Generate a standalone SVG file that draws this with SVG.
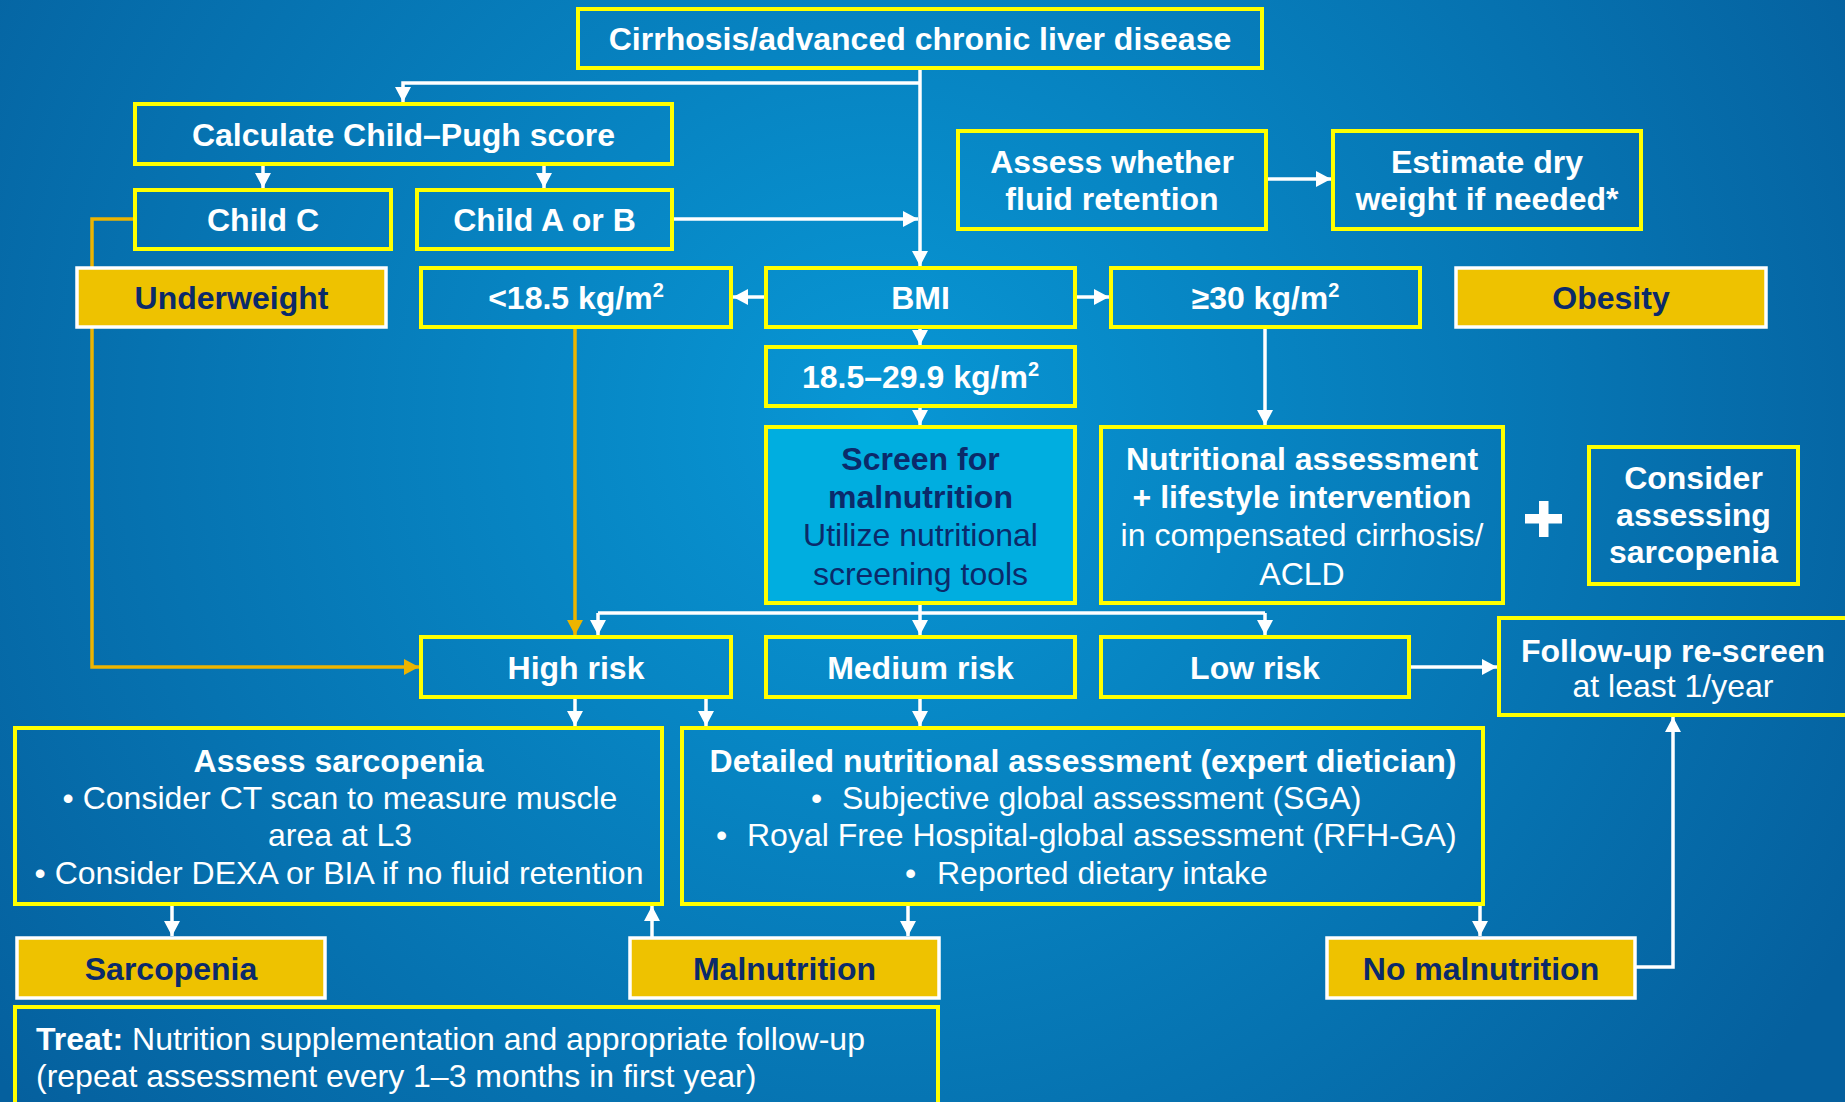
<svg xmlns="http://www.w3.org/2000/svg" width="1845" height="1102" viewBox="0 0 1845 1102">
<defs>
<radialGradient id="bg" gradientUnits="userSpaceOnUse" cx="880" cy="420" r="1100">
<stop offset="0" stop-color="#0897D5"/>
<stop offset="1" stop-color="#05609E"/>
</radialGradient>
<marker id="aw" markerUnits="userSpaceOnUse" markerWidth="16" markerHeight="16" refX="15" refY="8" orient="auto"><path d="M0,0 L15,8 L0,16 z" fill="#FFFFFF"/></marker>
<marker id="ag" markerUnits="userSpaceOnUse" markerWidth="16" markerHeight="16" refX="15" refY="8" orient="auto"><path d="M0,0 L15,8 L0,16 z" fill="#EDB400"/></marker>
<style>
.box{fill:none;stroke:#FFFF00;stroke-width:4}
.scr{fill:#00AEE0;stroke:#FFFF00;stroke-width:4}
.gold{fill:#EEC200;stroke:#FFFFFF;stroke-width:3.5}
.t{font-family:"Liberation Sans",Arial,sans-serif;font-size:32px;fill:#FFFFFF;text-anchor:middle}
.s{text-anchor:start}
.b{font-weight:bold}
.n{fill:#0B2A6A}
.w{stroke:#FFFFFF;stroke-width:3.5;fill:none;marker-end:url(#aw)}
.wl{stroke:#FFFFFF;stroke-width:3.5;fill:none}
.g{stroke:#EDB400;stroke-width:3.5;fill:none;marker-end:url(#ag)}
</style>
</defs>
<rect x="0" y="0" width="1845" height="1102" fill="url(#bg)"/>
<g id="connectors">
<path class="w" d="M920,68 V266"/>
<path class="w" d="M920,83 H403 V102"/>
<path class="w" d="M263,164 V188"/>
<path class="w" d="M544,164 V188"/>
<path class="w" d="M672,219 H918"/>
<path class="w" d="M1266,179 H1331"/>
<path class="w" d="M766,297 H733"/>
<path class="w" d="M1075,297 H1109"/>
<path class="w" d="M920,327 V345"/>
<path class="w" d="M920,406 V425"/>
<path class="w" d="M1265,327 V425"/>
<path class="w" d="M920,603 V635"/>
<path class="wl" d="M598,613 H1265"/>
<path class="w" d="M598,613 V635"/>
<path class="w" d="M1265,613 V635"/>
<path class="g" d="M575,327 V635"/>
<path class="g" d="M135,219 H92 V667 H419"/>
<path class="w" d="M575,697 V726"/>
<path class="w" d="M706,697 V726"/>
<path class="w" d="M920,697 V726"/>
<path class="w" d="M1409,667 H1497"/>
<path class="w" d="M172,904 V936"/>
<path class="w" d="M652,938 V906"/>
<path class="w" d="M908,904 V936"/>
<path class="w" d="M1480,904 V936"/>
<path class="w" d="M1635,967 H1673 V717"/>
</g>
<g id="n-top"><rect class="box" x="578" y="9" width="684" height="59"/><text class="t b" x="920" y="50">Cirrhosis/advanced chronic liver disease</text></g>
<g id="n-childpugh"><rect class="box" x="135" y="104" width="537" height="60"/><text class="t b" x="403.5" y="146">Calculate Child–Pugh score</text></g>
<g id="n-childc"><rect class="box" x="135" y="190" width="256" height="59"/><text class="t b" x="263" y="231">Child C</text></g>
<g id="n-childab"><rect class="box" x="417" y="190" width="255" height="59"/><text class="t b" x="544.5" y="231">Child A or B</text></g>
<g id="n-fluid"><rect class="box" x="958" y="131" width="308" height="98"/><text class="t b" x="1112" y="173">Assess whether</text><text class="t b" x="1112" y="210">fluid retention</text></g>
<g id="n-dry"><rect class="box" x="1333" y="131" width="308" height="98"/><text class="t b" x="1487" y="173">Estimate dry</text><text class="t b" x="1487" y="210">weight if needed*</text></g>
<g id="n-underweight"><rect class="gold" x="77" y="268" width="309" height="59"/><text class="t b n" x="231.5" y="309">Underweight</text></g>
<g id="n-lt185"><rect class="box" x="421" y="268" width="310" height="59"/><text class="t b" x="576" y="309">&lt;18.5 kg/m<tspan font-size="20" dy="-12">2</tspan></text></g>
<g id="n-bmi"><rect class="box" x="766" y="268" width="309" height="59"/><text class="t b" x="920.5" y="309">BMI</text></g>
<g id="n-ge30"><rect class="box" x="1111" y="268" width="309" height="59"/><text class="t b" x="1265.5" y="309">≥30 kg/m<tspan font-size="20" dy="-12">2</tspan></text></g>
<g id="n-obesity"><rect class="gold" x="1456" y="268" width="310" height="59"/><text class="t b n" x="1611" y="309">Obesity</text></g>
<g id="n-normal"><rect class="box" x="766" y="347" width="309" height="59"/><text class="t b" x="920.5" y="388">18.5–29.9 kg/m<tspan font-size="20" dy="-12">2</tspan></text></g>
<g id="n-screen"><rect class="scr" x="766" y="427" width="309" height="176"/><text class="t b n" x="920.5" y="470">Screen for</text><text class="t b n" x="920.5" y="508">malnutrition</text><text class="t n" x="920.5" y="546">Utilize nutritional</text><text class="t n" x="920.5" y="585">screening tools</text></g>
<g id="n-nutr"><rect class="box" x="1101" y="427" width="402" height="176"/><text class="t b" x="1302" y="470">Nutritional assessment</text><text class="t b" x="1302" y="508">+ lifestyle intervention</text><text class="t" x="1302" y="546">in compensated cirrhosis/</text><text class="t" x="1302" y="585">ACLD</text></g>
<g id="plus"><rect x="1525" y="514" width="37" height="9.5" fill="#FFFFFF"/><rect x="1539" y="501" width="9.5" height="36" fill="#FFFFFF"/></g>
<g id="n-considersarc"><rect class="box" x="1589" y="447" width="209" height="137"/><text class="t b" x="1693.5" y="489">Consider</text><text class="t b" x="1693.5" y="526">assessing</text><text class="t b" x="1693.5" y="563">sarcopenia</text></g>
<g id="n-high"><rect class="box" x="421" y="637" width="310" height="60"/><text class="t b" x="576" y="679">High risk</text></g>
<g id="n-medium"><rect class="box" x="766" y="637" width="309" height="60"/><text class="t b" x="920.5" y="679">Medium risk</text></g>
<g id="n-low"><rect class="box" x="1101" y="637" width="308" height="60"/><text class="t b" x="1255" y="679">Low risk</text></g>
<g id="n-followup"><rect class="box" x="1499" y="618" width="370" height="97"/><text class="t b" x="1673" y="662">Follow-up re-screen</text><text class="t" x="1673" y="697">at least 1/year</text></g>
<g id="n-assesssarc"><rect class="box" x="15" y="728" width="647" height="176"/><text class="t b" x="338.5" y="772">Assess sarcopenia</text><text class="t" x="340" y="809">• Consider CT scan to measure muscle</text><text class="t" x="340" y="846">area at L3</text><text class="t" x="339" y="884">• Consider DEXA or BIA if no fluid retention</text></g>
<g id="n-detailed"><rect class="box" x="682" y="728" width="801" height="176"/><text class="t b" x="1083" y="772">Detailed nutritional assessment (expert dietician)</text><text class="t s" x="811" y="809">•</text><text class="t s" x="842" y="809">Subjective global assessment (SGA)</text><text class="t s" x="716" y="846">•</text><text class="t s" x="747" y="846">Royal Free Hospital-global assessment (RFH-GA)</text><text class="t s" x="905" y="884">•</text><text class="t s" x="937" y="884">Reported dietary intake</text></g>
<g id="n-sarcopenia"><rect class="gold" x="17" y="938" width="308" height="60"/><text class="t b n" x="171" y="980">Sarcopenia</text></g>
<g id="n-malnutrition"><rect class="gold" x="630" y="938" width="309" height="60"/><text class="t b n" x="784.5" y="980">Malnutrition</text></g>
<g id="n-nomal"><rect class="gold" x="1327" y="938" width="308" height="60"/><text class="t b n" x="1481" y="980">No malnutrition</text></g>
<g id="n-treat"><rect class="box" x="15" y="1007" width="923" height="120"/><text class="t s" x="36" y="1050"><tspan font-weight="bold">Treat:</tspan> Nutrition supplementation and appropriate follow-up</text><text class="t s" x="36" y="1087">(repeat assessment every 1–3 months in first year)</text></g>
</svg>
